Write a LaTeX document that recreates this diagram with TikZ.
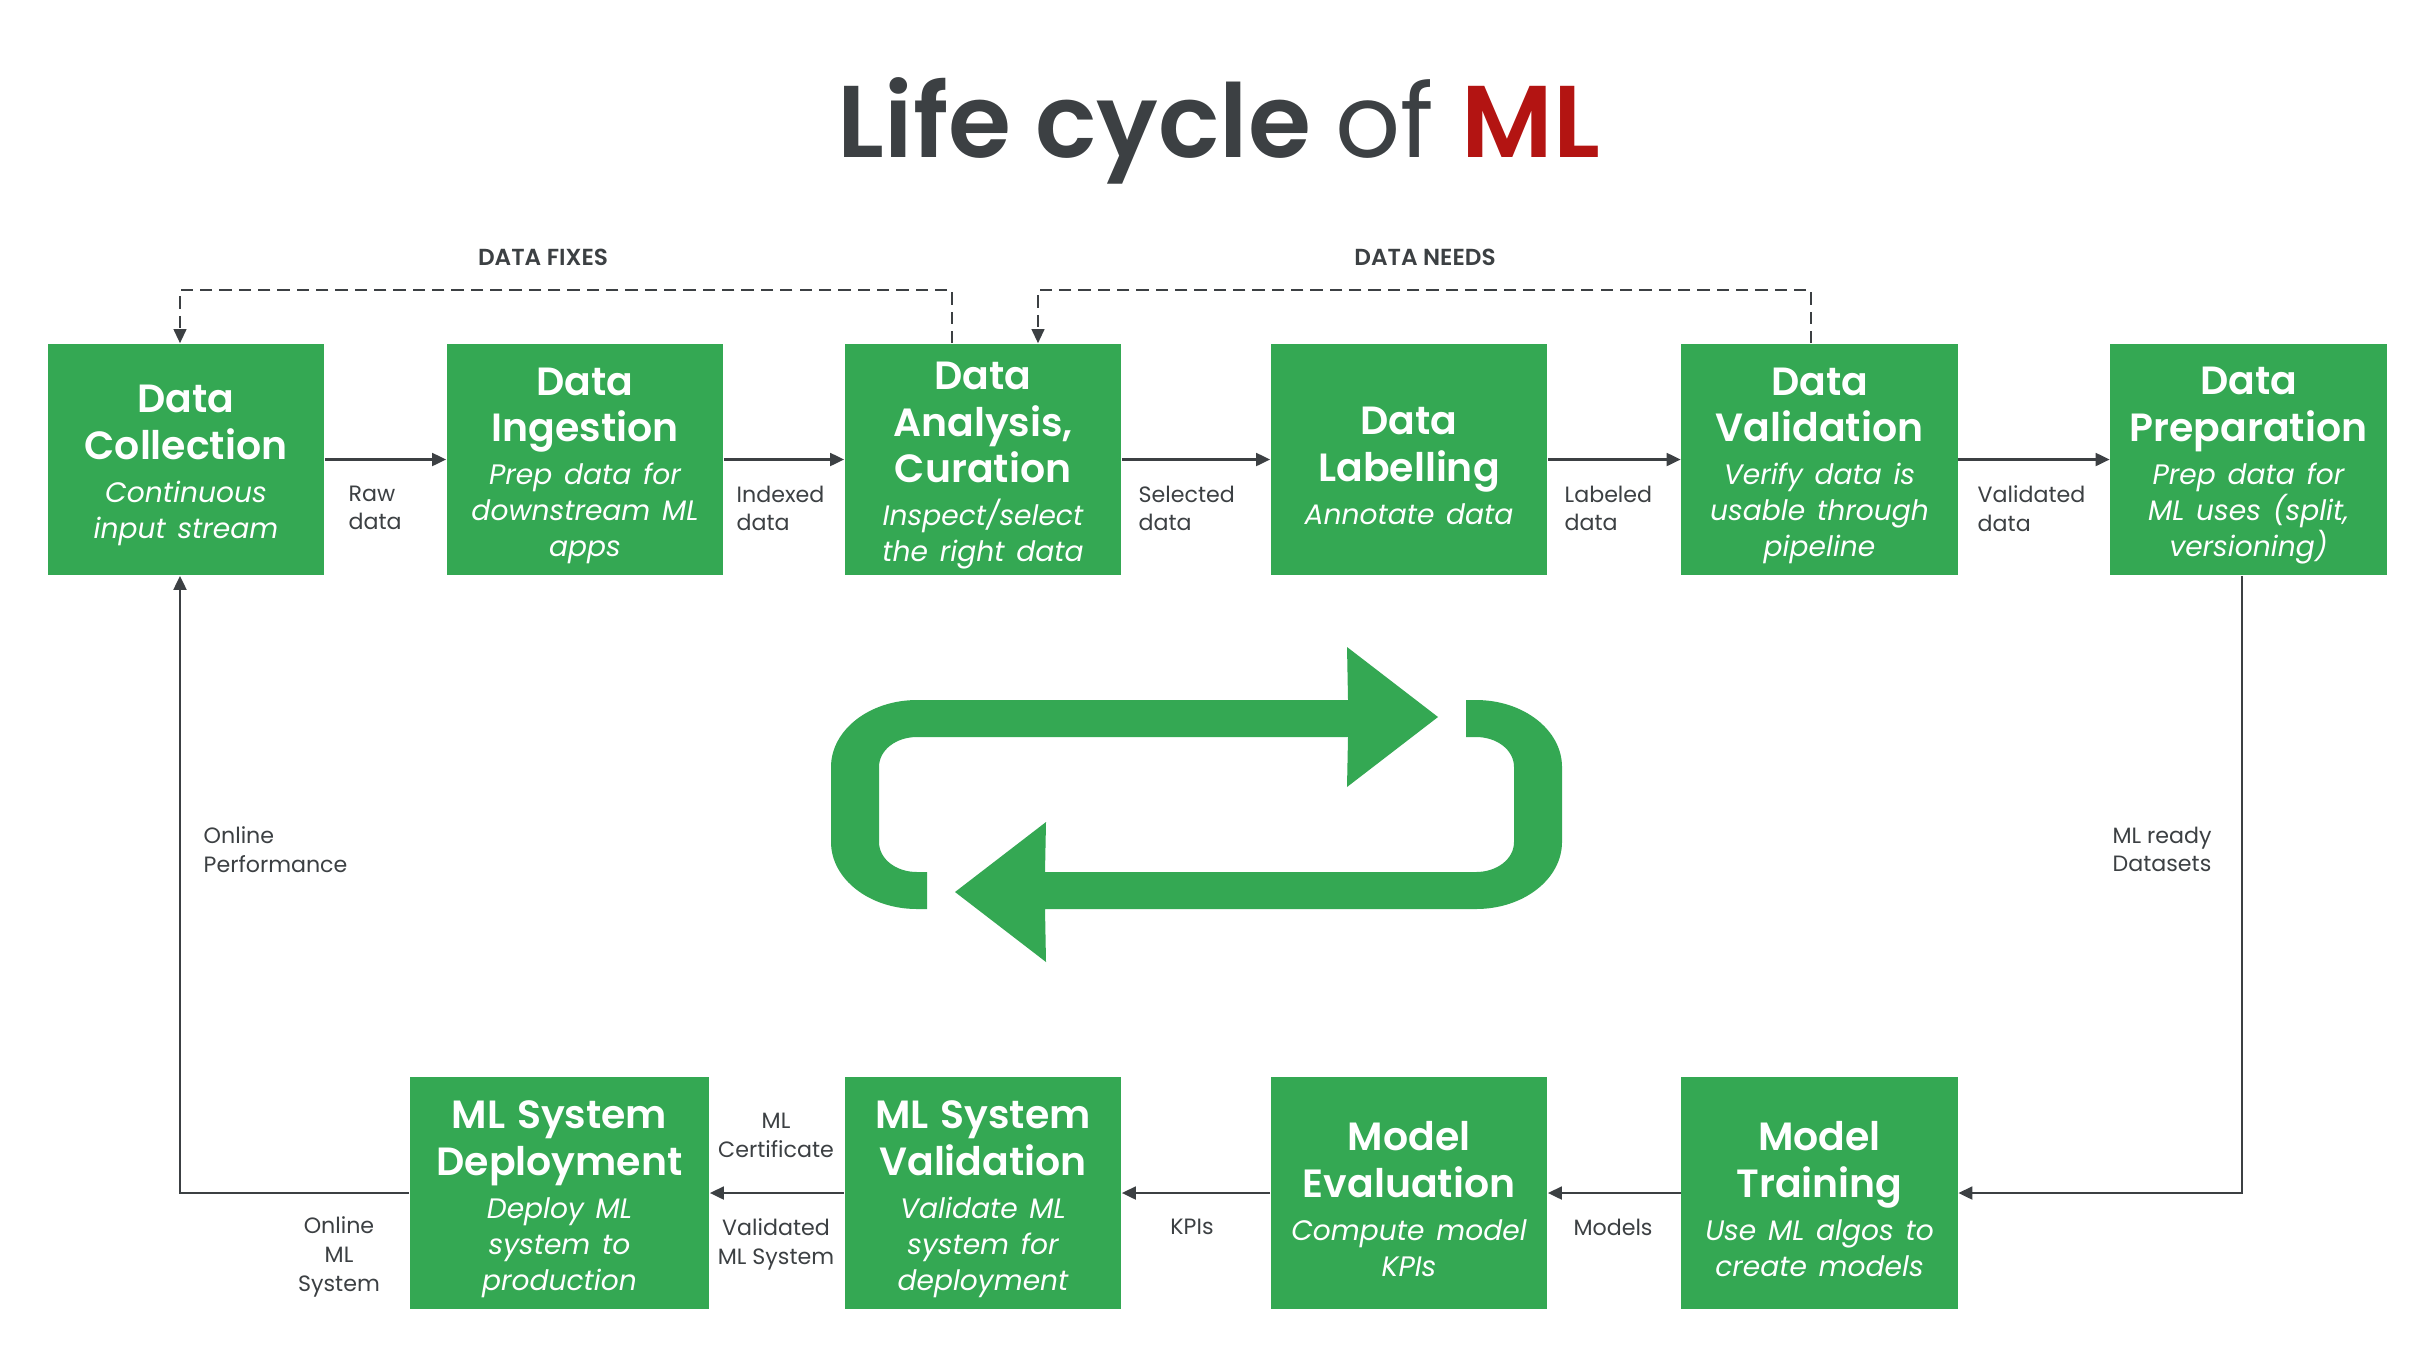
\documentclass[tikz,border=0pt]{standalone}
\usepackage{fontspec}
\setmainfont{Poppins}[BoldFont={Poppins SemiBold}]
\usepackage{tikz}
\usetikzlibrary{arrows.meta}
\definecolor{mlgreen}{HTML}{34A853}
\definecolor{mlred}{HTML}{B31412}
\definecolor{ink}{HTML}{3C4043}

\newcommand{\stagetxt}[2]{{\fontsize{11.2}{13.3}\selectfont\bfseries #1\par}\vspace{2pt}{\fontsize{8}{10.2}\selectfont\itshape #2\par}\vspace{-3.5pt}}

\begin{document}
\begin{tikzpicture}[x=0.01cm,y=-0.01cm,
  stage/.style={fill=mlgreen,text=white,minimum width=2.76cm,minimum height=2.31cm,text width=2.7cm,align=center,inner sep=0pt},
  flow/.style={-{Triangle[length=4pt,width=3.6pt]},line width=0.8pt,ink},
  fix/.style={-{Triangle[length=4pt,width=3.6pt]},line width=0.6pt,ink,dash pattern=on 3.5pt off 2pt},
  lbl/.style={font=\fontsize{6.3}{8.2}\selectfont,text=ink,inner sep=0pt}]
\fill[white] (0,0) rectangle (2428,1360);
\useasboundingbox (0,0) rectangle (2428,1360);
\node[anchor=base,font=\fontsize{29}{34}\selectfont,text=ink] (title) at (1219,157) {\bfseries Life cycle \mdseries of \bfseries\color{mlred}ML};
% top row
\node[stage] (b1) at (186,459.5) {\stagetxt{Data\\Collection}{Continuous\\input stream}};
\node[stage] (b2) at (585,459.5) {\stagetxt{Data\\Ingestion}{Prep data for\\downstream ML\\apps}};
\node[stage] (b3) at (983,459.5) {\stagetxt{Data\\Analysis,\\Curation}{Inspect/select\\the right data}};
\node[stage] (b4) at (1409,459.5) {\stagetxt{Data\\Labelling}{Annotate data}};
\node[stage] (b5) at (1819.5,459.5) {\stagetxt{Data\\Validation}{Verify data is\\usable through\\pipeline}};
\node[stage] (b6) at (2248.5,459.5) {\stagetxt{Data\\Preparation}{Prep data for\\ML uses (split,\\versioning)}};
% bottom row
\node[stage,minimum width=2.99cm] (dep) at (559.5,1193) {\stagetxt{ML System\\Deployment}{Deploy ML\\system to\\production}};
\node[stage] (val) at (983,1193) {\stagetxt{ML System\\Validation}{Validate ML\\system for\\deployment}};
\node[stage] (eval) at (1409,1193) {\stagetxt{Model\\Evaluation}{Compute model\\KPIs}};
\node[stage] (train) at (1819.5,1193) {\stagetxt{Model\\Training}{Use ML algos to\\create models}};
% main flow
\foreach \a/\b in {b1/b2,b2/b3,b3/b4,b4/b5,b5/b6,train/eval,eval/val,val/dep}{\draw[flow] (\a) -- (\b);}
\coordinate (fb) at (180,1193);
\coordinate (rt) at (2242,1193);
\draw[flow] (dep.west) -- (fb) -- (fb |- b1.south);
\draw[flow] (b6.south -| rt) -- (rt) -- (train.east);
% dashed loops
\coordinate (fx) at (952,290);
\coordinate (nd) at (1811,290);
\coordinate (nd2) at (1038,290);
\draw[fix] (b3.north -| fx) -- (fx) -- (fx -| fb) -- (fb |- b1.north);
\draw[fix] (b5.north -| nd) -- (nd) -- (nd2) -- (b3.north -| nd2);
\node[lbl,font=\fontsize{6.6}{8}\selectfont\bfseries] (fixes) at (543,257) {DATA FIXES};
\node[lbl,font=\fontsize{6.6}{8}\selectfont\bfseries] (needs) at (1425,257) {DATA NEEDS};
% arrow labels
\node[lbl,anchor=north west,align=left] (raw) at (348,485) {Raw\\data};
\node[lbl,anchor=north west,align=left] (idx) at (736,485) {Indexed\\data};
\node[lbl,anchor=north west,align=left] (sel) at (1138,485) {Selected\\data};
\node[lbl,anchor=north west,align=left] (lab) at (1564,485) {Labeled\\data};
\node[lbl,anchor=north west,align=left] (vd) at (1977,485) {Validated\\data};
\node[lbl,anchor=north,align=center] (cert) at (776,1112) {ML\\Certificate};
\node[lbl,anchor=north,align=center] (vms) at (776,1218) {Validated\\ML System};
\node[lbl,anchor=north,align=center] (kpi) at (1192,1218) {KPIs};
\node[lbl,anchor=north,align=center] (mod) at (1613,1218) {Models};
\node[lbl,anchor=north,align=center] (oms) at (339,1216) {Online\\ML\\System};
\node[lbl,anchor=north west,align=left] (perf) at (203,826) {Online\\Performance};
\node[lbl,anchor=north,align=center] (ready) at (2162,826) {ML ready\\Datasets};
% cycle icon
\foreach \rot in {0,180}{
  \fill[mlgreen,rotate around={\rot:(1196.5,804.5)}] (927,909) -- (917,909) .. controls (869.5,909) and (831,879) .. (831,842) -- (831,767) .. controls (831,730) and (869.5,700) .. (917,700) -- (1348,700) -- (1347,647) -- (1438,717) -- (1347,787) -- (1348,737) -- (917,737) .. controls (896,737) and (879,750) .. (879,767) -- (879,842) .. controls (879,859) and (896,872) .. (917,872) -- (927,872) -- cycle;
}
\end{tikzpicture}
\end{document}
